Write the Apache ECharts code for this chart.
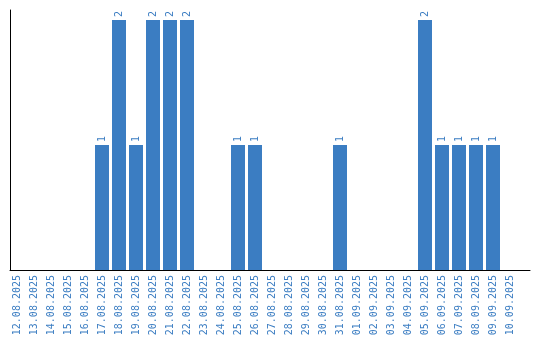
<!DOCTYPE html>
<html>
<head>
<meta charset="utf-8">
<script src="https://cdn.jsdelivr.net/npm/echarts@6/dist/echarts.min.js"></script>
<style>html,body{margin:0;padding:0;background:#fff}#c{width:540px;height:340px}</style>
</head>
<body>
<div id="c"></div>
<script>
var categories = ["12.08.2025","13.08.2025","14.08.2025","15.08.2025","16.08.2025","17.08.2025","18.08.2025","19.08.2025","20.08.2025","21.08.2025","22.08.2025","23.08.2025","24.08.2025","25.08.2025","26.08.2025","27.08.2025","28.08.2025","29.08.2025","30.08.2025","31.08.2025","01.09.2025","02.09.2025","03.09.2025","04.09.2025","05.09.2025","06.09.2025","07.09.2025","08.09.2025","09.09.2025","10.09.2025"];
var counts = [0,0,0,0,0,1,2,1,2,2,2,0,0,1,1,0,0,0,0,1,0,0,0,0,2,1,1,1,1,0];
var blue = '#3b7dc2';
var yMax = 2.08;
var chart = echarts.init(document.getElementById('c'), null, {renderer:'canvas'});
chart.setOption({
  animation: false,
  grid: [
    {left: 10, right: 10, top: 10, bottom: 70},
    {left: 8.5, width: 510, top: 10, bottom: 70}
  ],
  xAxis: [
    {gridIndex: 0, type: 'value', min: 0, max: 1, axisLine: {show: true, onZero: false, lineStyle: {color: '#000', width: 1}}, axisTick: {show: false}, axisLabel: {show: false}, splitLine: {show: false}},
    {gridIndex: 1, type: 'category', data: categories, axisLine: {show: false}, axisTick: {show: false}, splitLine: {show: false},
     axisLabel: {interval: 0, rotate: 90, margin: 5, color: blue, fontFamily: 'DejaVu Sans Mono', fontSize: 10}}
  ],
  yAxis: [
    {gridIndex: 0, type: 'value', min: 0, max: yMax, axisLine: {show: true, lineStyle: {color: '#000', width: 1}}, axisTick: {show: false}, axisLabel: {show: false}, splitLine: {show: false}},
    {gridIndex: 1, type: 'value', min: 0, max: yMax, show: false, splitLine: {show: false}}
  ],
  series: [{
    type: 'bar',
    xAxisIndex: 1, yAxisIndex: 1,
    data: counts,
    barWidth: 14,
    itemStyle: {color: blue},
    label: {
      show: true, position: 'top', rotate: 90, align: 'left', verticalAlign: 'middle', distance: 3,
      color: blue, fontFamily: 'DejaVu Sans Mono', fontSize: 10,
      formatter: function(p){ return p.value > 0 ? String(p.value) : ''; }
    }
  }]
});
</script>
</body>
</html>
